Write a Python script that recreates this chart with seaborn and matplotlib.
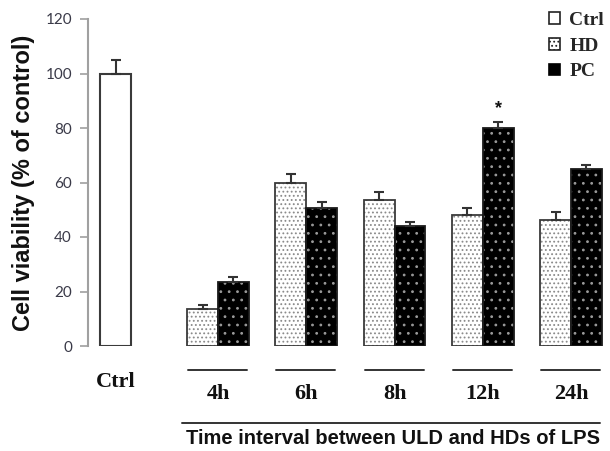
import numpy as np
import pandas as pd
import matplotlib
matplotlib.use("Agg")
import matplotlib.pyplot as plt
import seaborn as sns
from matplotlib.patches import Patch

# ---------------- data ----------------
ctrl_label = "Ctrl"
ctrl_value = 100.0
ctrl_err = 4.9
times = ["4h", "6h", "8h", "12h", "24h"]
treatments = ["HD", "PC"]
hd_values = [13.5, 60.0, 53.4, 48.2, 46.1]
hd_err = [1.5, 3.2, 3.1, 2.4, 2.9]
pc_values = [23.5, 50.8, 44.1, 80.0, 65.1]
pc_err = [2.0, 1.9, 1.5, 2.1, 1.3]
significant = [False, False, False, True, False]
yticks = [0, 20, 40, 60, 80, 100, 120]
ylabel = "Cell viability (% of control)"
xlabel = "Time interval between ULD and HDs of LPS"
legend_labels = ["Ctrl", "HD", "PC"]

# ---------------- style ----------------
sns.set_theme(style="white")
plt.rcParams["hatch.linewidth"] = 0.8

W, H = 610, 451
fig = plt.figure(figsize=(W / 100, H / 100), dpi=100)
ax = fig.add_axes([88 / W, 1 - 346 / H, (605 - 88) / W, 327 / H])

group_pos = np.arange(len(times), dtype=float)
ctrl_pos = -1.16

df = pd.DataFrame({
    "pos": np.concatenate([group_pos, group_pos]),
    "value": hd_values + pc_values,
    "err": hd_err + pc_err,
    "treatment": ["HD"] * len(times) + ["PC"] * len(times),
})

sns.barplot(data=df, x="pos", y="value", hue="treatment", hue_order=treatments,
            native_scale=True, width=0.7, dodge=True, saturation=1,
            palette={"HD": "white", "PC": "black"}, errorbar=None,
            legend=False, ax=ax)
bar_patches = list(ax.patches)


def style_patch(p, face, hatch, hcolor):
    p.set_facecolor(face)
    p.set_hatch(hatch)
    if hasattr(p, "set_hatchcolor"):
        p.set_hatchcolor(hcolor)
        p.set_linewidth(0)
    else:
        p.set_edgecolor(hcolor)
        p.set_linewidth(0)


hd_p, pc_p = [], []
for p in bar_patches:
    fc = p.get_facecolor()
    if fc[0] > 0.5:
        hd_p.append(p)
    else:
        pc_p.append(p)
hd_p.sort(key=lambda p: p.get_x())
pc_p.sort(key=lambda p: p.get_x())
for p in hd_p:
    style_patch(p, "white", "....", "#8a8a8a")
for p in pc_p:
    style_patch(p, "black", "..", "#9a9a9a")

# dark outlines drawn on top of the dotted bars
sns.barplot(data=df, x="pos", y="value", hue="treatment", hue_order=treatments,
            native_scale=True, width=0.7, dodge=True, saturation=1, fill=False,
            palette={"HD": "#3a3a3a", "PC": "#1a1a1a"}, linewidth=1.3,
            errorbar=None, legend=False, ax=ax)

sns.barplot(x=[ctrl_pos], y=[ctrl_value], native_scale=True, width=0.35,
            color="white", saturation=1, errorbar=None, ax=ax)
ctrl_patch = ax.patches[-1]
ctrl_patch.set_edgecolor("#3a3a3a")
ctrl_patch.set_linewidth(1.5)


# error bars (upper only)
def centers(ps):
    return [p.get_x() + p.get_width() / 2 for p in ps]


ekw = dict(fmt="none", ecolor="#333333", elinewidth=1.5, capsize=3.6, capthick=1.5)
ax.errorbar([ctrl_patch.get_x() + ctrl_patch.get_width() / 2], [ctrl_value],
            yerr=[[0], [ctrl_err]], **ekw)
ax.errorbar(centers(hd_p), hd_values, yerr=[[0] * len(hd_err), hd_err], **ekw)
ax.errorbar(centers(pc_p), pc_values, yerr=[[0] * len(pc_err), pc_err], **ekw)

for c, v, e, s in zip(centers(pc_p), pc_values, pc_err, significant):
    if s:
        ax.text(c, v + e + 1.8, "*", ha="center", va="bottom", fontsize=13,
                fontweight="bold", color="#111111", family="Liberation Sans")

# axes
ax.set_xlim(-1.473, 4.385)
ax.set_ylim(0, 120)
ax.set_yticks(yticks)
ax.set_yticklabels([str(t) for t in yticks], family="Lato", fontsize=11,
                   color="#3a3a48")
ax.set_xticks([])
ax.set_xlabel("")
ax.set_ylabel("")
for s in ["top", "right", "bottom"]:
    ax.spines[s].set_visible(False)
ax.spines["left"].set_color("#a0a0a0")
ax.spines["left"].set_linewidth(1.5)
ax.tick_params(axis="y", direction="out", length=6, width=1.2, color="#a0a0a0",
               pad=5.5, left=True)

# labels below axis
trans = ax.get_xaxis_transform()
serif = "Liberation Serif"
ax.text(ctrl_pos, -0.110, ctrl_label, transform=trans, ha="center", va="center",
        fontsize=16, fontweight="bold", family=serif, color="#111111")
for x, t in zip(group_pos, times):
    ax.plot([x - 0.34, x + 0.33], [-0.073, -0.073], transform=trans,
            clip_on=False, color="#333333", lw=1.4)
    ax.text(x, -0.147, t, transform=trans, ha="center", va="center",
            fontsize=16, fontweight="bold", family=serif, color="#111111")
ax.plot([-0.41, 4.33], [-0.235, -0.235], transform=trans, clip_on=False,
        color="#333333", lw=1.4)
ax.text(1.98, -0.301, xlabel, transform=trans, ha="center", va="baseline",
        fontsize=14.5, fontweight="bold", family="Liberation Sans", color="#111111")

fig.text(24 / W, 1 - 182.5 / H, ylabel, rotation=90, ha="center", va="center",
         fontsize=17, fontweight="bold", family="Liberation Sans", color="#111111")

# legend
handles = [
    Patch(facecolor="white", edgecolor="#222222", linewidth=1.2),
    Patch(facecolor="white", edgecolor="#222222", linewidth=1.2, hatch="...."),
    Patch(facecolor="black", edgecolor="black", linewidth=1.2),
]
leg = fig.legend(handles, legend_labels, loc="upper left",
                 bbox_to_anchor=(549 / W, 1 - 12 / H), frameon=False,
                 handlelength=0.55, handleheight=0.55, handletextpad=0.5,
                 labelspacing=0.45, borderpad=0, borderaxespad=0,
                 prop={"family": serif, "weight": "bold", "size": 14})

fig.savefig("out.png", dpi=100)
